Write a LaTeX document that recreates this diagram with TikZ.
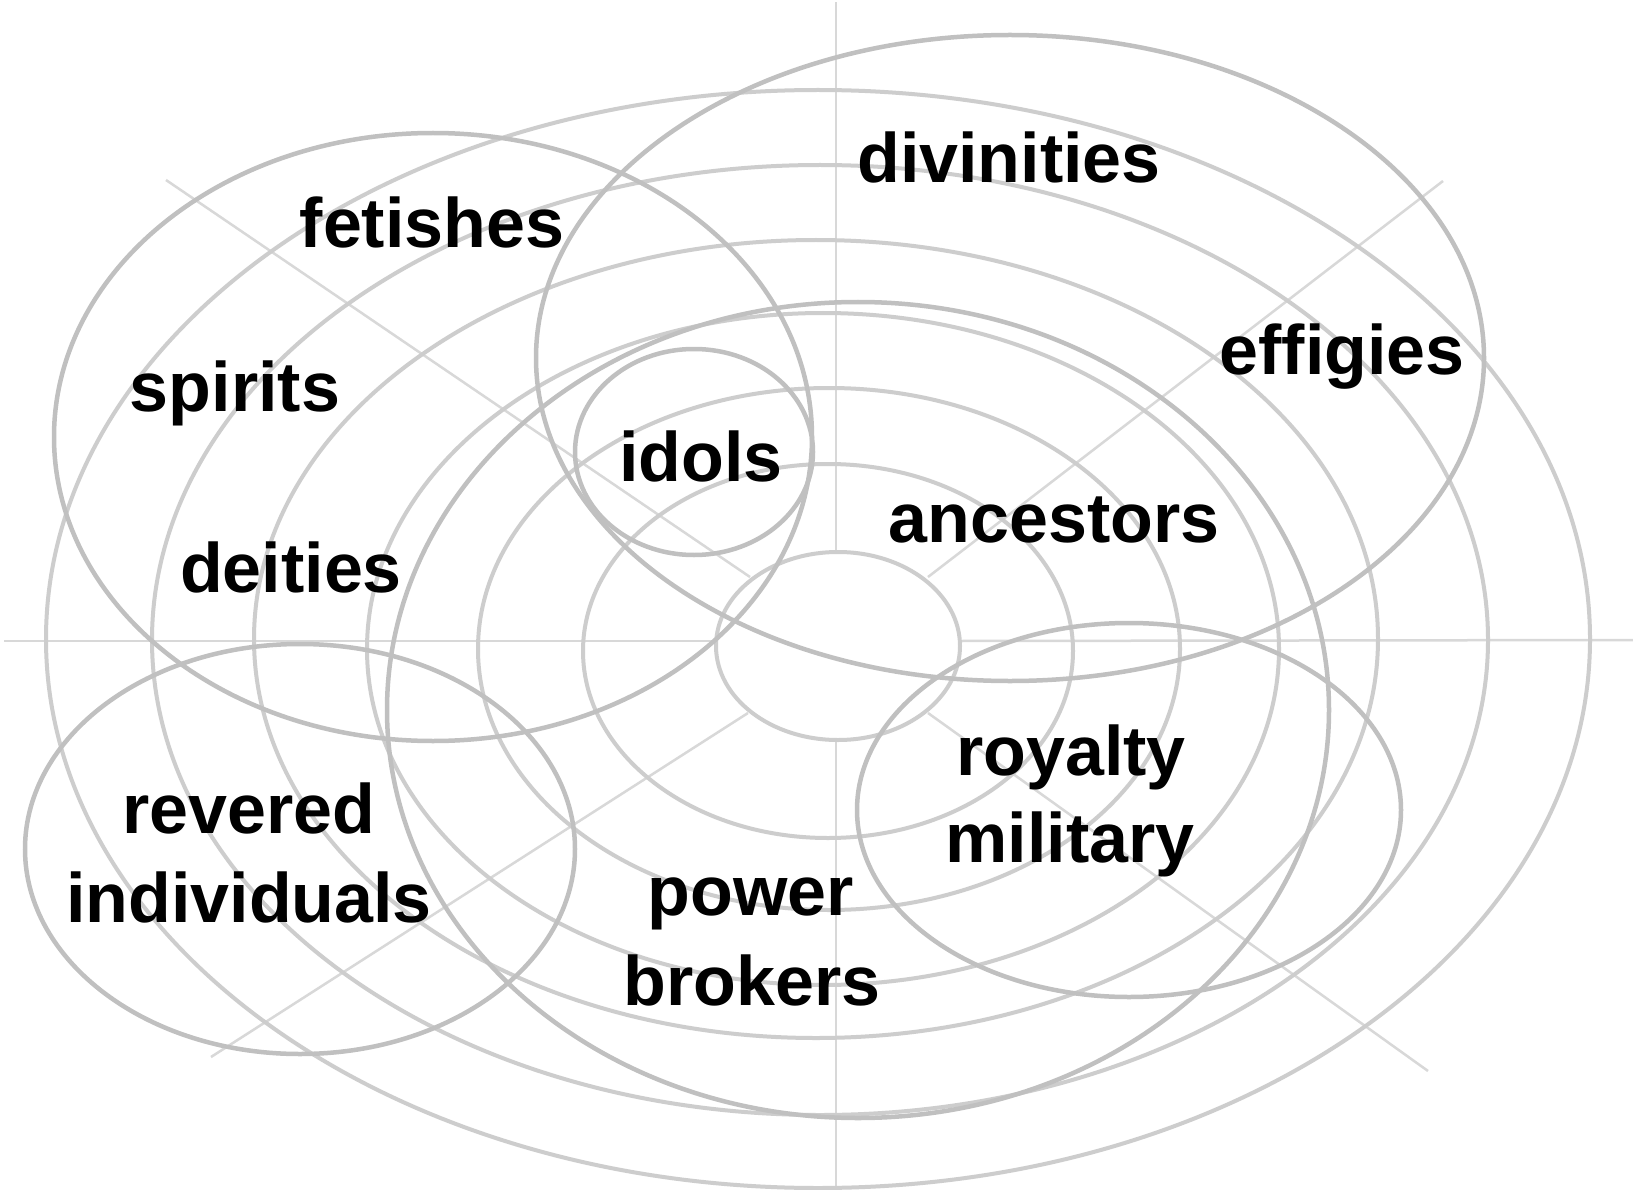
\documentclass[tikz,border=0pt]{standalone}
\usepackage{fontspec}
\setmainfont{Liberation Sans}
\definecolor{spokegray}{HTML}{D8D8D8}
\definecolor{ringgray}{HTML}{CDCDCD}
\definecolor{groupgray}{HTML}{C0C0C0}
\begin{document}
\begin{tikzpicture}[x=1pt,y=-1pt,
  spoke/.style={draw=spokegray,line width=2.5pt},
  ring/.style={draw=ringgray,line width=4pt},
  group/.style={draw=groupgray,line width=4.5pt},
  lbl/.style={font=\fontsize{70}{84}\selectfont\bfseries,text=black,anchor=base,inner sep=0pt}]
\useasboundingbox[fill=white] (0,0) rectangle (1633,1190);
% spokes
\coordinate (su0) at (836,552); \coordinate (su1) at (836,2);
\coordinate (sd0) at (836,740); \coordinate (sd1) at (836,1190);
\coordinate (sl0) at (716,641); \coordinate (sl1) at (4,641);
\coordinate (sr0) at (960,641); \coordinate (sr1) at (1633,640);
\coordinate (sul0) at (750,577); \coordinate (sul1) at (166,180);
\coordinate (sur0) at (928,577); \coordinate (sur1) at (1443,181);
\coordinate (sdl0) at (748,713); \coordinate (sdl1) at (211,1057);
\coordinate (sdr0) at (928,713); \coordinate (sdr1) at (1428,1071);
\foreach \s in {su,sd,sl,sr,sul,sur,sdl,sdr}{\draw[spoke] (\s0) -- (\s1);}
% concentric rings
\draw[ring] (838,646) ellipse [x radius=122pt,y radius=94pt];
\draw[ring] (828,651) ellipse [x radius=245pt,y radius=187pt];
\draw[ring] (829,649) ellipse [x radius=351pt,y radius=261pt];
\draw[ring] (823,649) ellipse [x radius=456pt,y radius=336pt];
\draw[ring] (816,639) ellipse [x radius=562pt,y radius=399pt];
\draw[ring] (820,640) ellipse [x radius=668pt,y radius=475pt];
\draw[ring] (818,639) ellipse [x radius=772pt,y radius=549pt];
% group ellipses
\draw[group] (433,437) ellipse [x radius=379pt,y radius=304pt];
\draw[group] (1010,358) ellipse [x radius=474pt,y radius=323pt];
\draw[group] (694,452) ellipse [x radius=119pt,y radius=103pt];
\draw[group] (858,710) ellipse [x radius=471pt,y radius=408pt];
\draw[group] (300,849) ellipse [x radius=275pt,y radius=205pt];
\draw[group] (1129,810) ellipse [x radius=272pt,y radius=187pt];
% labels
\node[lbl] (divinities) at (1009,183) {divinities};
\node[lbl] (fetishes) at (432,248) {fetishes};
\node[lbl] (effigies) at (1342,374) {effigies};
\node[lbl] (spirits) at (235,411) {spirits};
\node[lbl] (idols) at (701,481) {idols};
\node[lbl] (ancestors) at (1054,542) {ancestors};
\node[lbl] (deities) at (291,592) {deities};
\node[lbl] (royalty) at (1071,775) {royalty};
\node[lbl] (military) at (1070,862) {military};
\node[lbl] (revered) at (249,833) {revered};
\node[lbl] (individuals) at (249,922) {individuals};
\node[lbl] (power) at (751,915) {power};
\node[lbl] (brokers) at (752,1005) {brokers};
\end{tikzpicture}
\end{document}
